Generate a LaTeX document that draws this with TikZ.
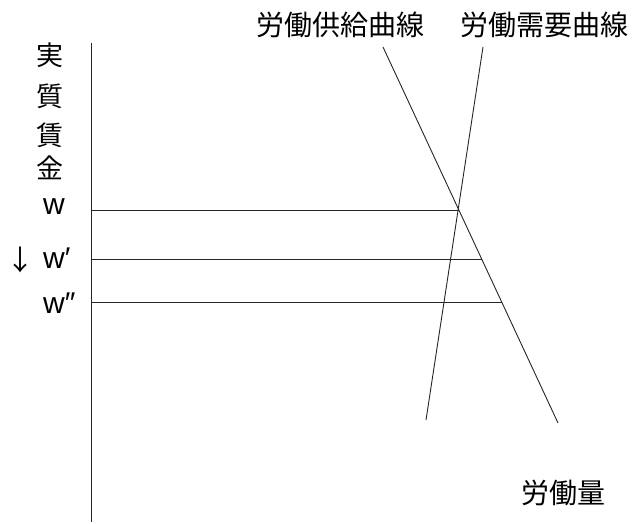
\documentclass[tikz,border=0pt]{standalone}
\usepackage{fontspec}
\newfontfamily\cjk{Noto Sans CJK JP}
\newfontfamily\lat{Liberation Sans}
\begin{document}
\begin{tikzpicture}[x=1pt,y=-1pt,
  ln/.style={draw=black!85,line width=0.9pt},
  cj/.style={font=\cjk\fontsize{28}{28}\selectfont,inner sep=0pt},
  cv/.style={font=\cjk\fontsize{27}{27}\selectfont,inner sep=0pt},
  wl/.style={font=\lat\fontsize{30}{30}\selectfont,inner sep=0pt}]
\useasboundingbox[fill=white] (0,0) rectangle (632,524);
% axis
\coordinate (atop) at (91,43);
\coordinate (abot) at (91,522);
\draw[ln] (atop) -- (abot);
% curves
\coordinate (s1) at (383,47);
\coordinate (s2) at (558,423);
\coordinate (d1) at (483,47);
\coordinate (d2) at (426,420);
\draw[ln] (s1) -- (s2);
\draw[ln] (d1) -- (d2);
% wage lines
\coordinate (w0a) at (91,210);
\coordinate (w0b) at (458.5,210);
\coordinate (w1a) at (91,259);
\coordinate (w1b) at (481.5,259);
\coordinate (w2a) at (91,302);
\coordinate (w2b) at (501.5,302);
\draw[ln] (w0a) -- (w0b);
\draw[ln] (w1a) -- (w1b);
\draw[ln] (w2a) -- (w2b);
% labels
\node[cv] (l1) at (50,55) {実};
\node[cv] (l2) at (50,96) {質};
\node[cv] (l3) at (50,135) {賃};
\node[cv] (l4) at (50,168) {金};
\node[wl,anchor=west] (w0) at (43,207) {w};
\node[wl,anchor=west] (w1) at (43,258) {w′};
\node[wl,anchor=west] (w2) at (43,303) {w″};
\node[cj] (arr) at (20,260) {↓};
\node[cj] (sl) at (340,25) {労働供給曲線};
\node[cj] (dl) at (544,25) {労働需要曲線};
\node[cj] (ql) at (563,493) {労働量};
\end{tikzpicture}
\end{document}
